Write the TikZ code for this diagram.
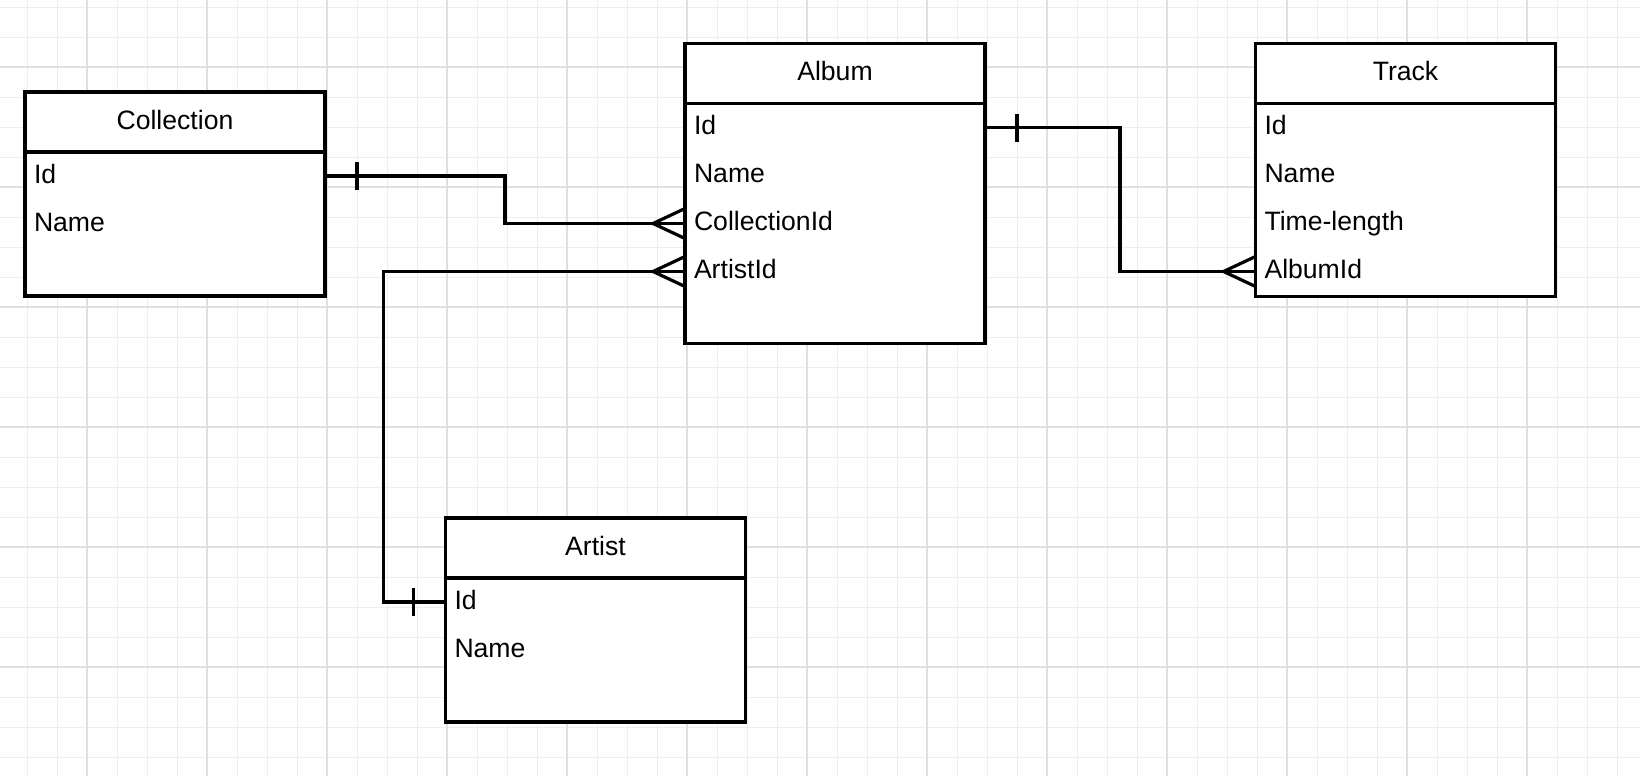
\documentclass[tikz,border=0pt]{standalone}
\usepackage{fontspec}
\setmainfont{Liberation Sans}
\usepackage{tikz}
\usetikzlibrary{positioning}
\usetikzlibrary{decorations.markings}

\definecolor{gridminor}{RGB}{238,238,238}
\definecolor{gridmajor}{RGB}{224,224,224}

\tikzset{
	entity/.style={draw, line width=1.8pt, minimum width=150pt, inner sep=0pt, outer sep=0pt, fill=white},
	head/.style={entity, minimum height=30pt, text height=9.5pt, text depth=2.5pt},
	body/.style={entity},
	attr/.style={inner sep=0pt, outer sep=0pt, text width=141pt, align=left, minimum height=24pt, text height=9.5pt, text depth=2.5pt},
	link/.style={line width=1.6pt},
	one/.style={postaction={decorate, decoration={markings, mark=at position 16pt with {\draw [link] (0pt,-7pt) -- (0pt,7pt);}}}},
	many/.style={postaction={decorate, decoration={markings, mark=at position 1 with {\draw [link] (0pt,7.5pt) -- (-16pt,0pt) -- (0pt,-7.5pt);}}}},
	minor/.style={gridminor, line width=0.5pt},
	major/.style={gridmajor, line width=0.6pt}
}

\begin{document}
\begin{tikzpicture}[x=0.5pt, y=-0.5pt, node distance=0pt, font=\fontsize{13.3}{16}\selectfont]

		% grid paper
		\useasboundingbox (0,0) rectangle (1640,776);
		\fill [white] (0,0) rectangle (1640,776);
		\foreach \gx in {27,57,...,1617} \draw [minor] (\gx,0) -- (\gx,776);
		\foreach \gy in {7,37,...,757} \draw [minor] (0,\gy) -- (1640,\gy);
		\foreach \gx in {87,207,...,1527} \draw [major] (\gx,0) -- (\gx,776);
		\foreach \gy in {67,187,...,667} \draw [major] (0,\gy) -- (1640,\gy);

		% Collection
		\node (collectionHead) [head] at (175,122) {Collection};
		\node (collectionBody) [body, minimum height=72pt, below = 0pt of collectionHead] {};
		\node (collectionId) [attr, below = 0pt of collectionHead] {Id};
		\node (collectionName) [attr, below = 0pt of collectionId] {Name};

		% Album
		\node (albumHead) [head] at (835,73.5) {Album};
		\node (albumBody) [body, minimum height=120pt, below = 0pt of albumHead] {};
		\node (albumId) [attr, below = 0pt of albumHead] {Id};
		\node (albumName) [attr, below = 0pt of albumId] {Name};
		\node (albumCollectionId) [attr, below = 0pt of albumName] {CollectionId};
		\node (albumArtistId) [attr, below = 0pt of albumCollectionId] {ArtistId};

		% Track
		\node (trackHead) [head] at (1405.5,73.5) {Track};
		\node (trackBody) [body, minimum height=96.5pt, below = 0pt of trackHead] {};
		\node (trackId) [attr, below = 0pt of trackHead] {Id};
		\node (trackName) [attr, below = 0pt of trackId] {Name};
		\node (trackTime) [attr, below = 0pt of trackName] {Time-length};
		\node (trackAlbumId) [attr, below = 0pt of trackTime] {AlbumId};

		% Artist
		\node (artistHead) [head] at (595.5,548) {Artist};
		\node (artistBody) [body, minimum height=72pt, below = 0pt of artistHead] {};
		\node (artistId) [attr, below = 0pt of artistHead] {Id};
		\node (artistName) [attr, below = 0pt of artistId] {Name};

		% relations
		\draw [link, one, many] (collectionBody.east |- collectionId) -- ++(180,0) |- (albumBody.west |- albumCollectionId);
		\draw [link, one, many] (artistBody.west |- artistId) -- ++(-62,0) |- (albumBody.west |- albumArtistId);
		\draw [link, one, many] (albumBody.east |- albumId) -- ++(135,0) |- (trackBody.west |- trackAlbumId);

\end{tikzpicture}
\end{document}
